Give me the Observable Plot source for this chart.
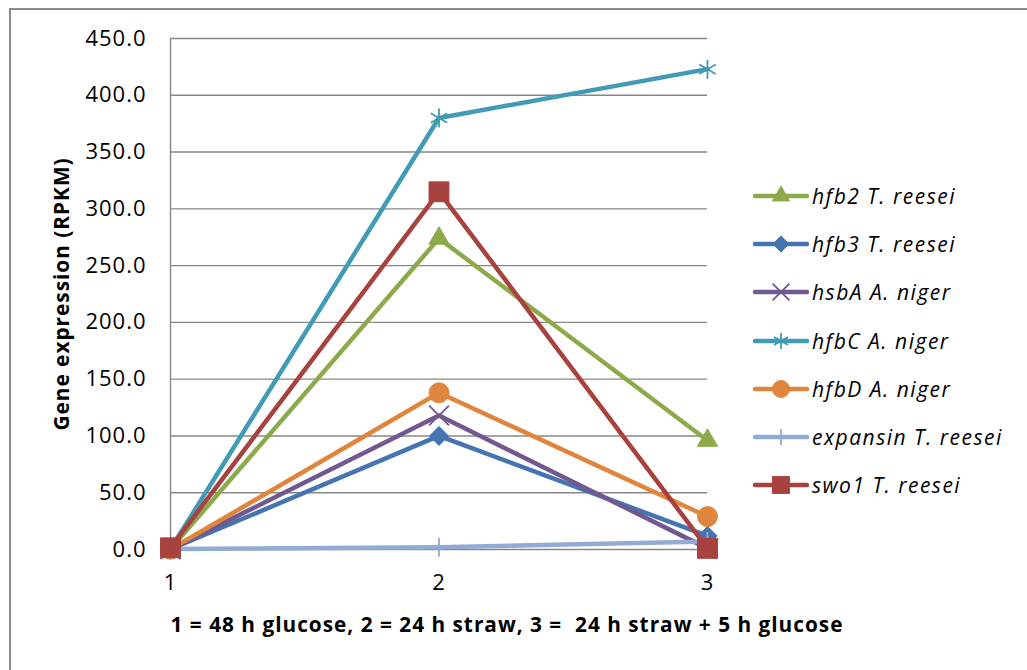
<!DOCTYPE html>
<html>
<head>
<meta charset="utf-8">
<script src="https://cdn.jsdelivr.net/npm/d3@7"></script>
<script src="https://cdn.jsdelivr.net/npm/@observablehq/plot@0.6"></script>
<style>
  html, body { margin: 0; padding: 0; background: #fff; }
  #wrap { position: relative; width: 1027px; height: 670px; overflow: hidden; }
  #border { position: absolute; left: 9px; top: 8px; width: 1100px; height: 800px;
            border-left: 2px solid #8c8c8c; border-top: 2px solid #8c8c8c; box-sizing: border-box; }
  #legend { position: absolute; left: 753px; top: 172px; font-family: "Open Sans", sans-serif;
            font-style: italic; font-size: 21px; letter-spacing: 1.5px; color: #000; }
  .item { display: flex; align-items: center; height: 48.2px; }
  .item span { margin-left: 3px; }
</style>
</head>
<body>
<div id="wrap"><div id="border"></div><div id="chart"></div><div id="legend"></div></div>
<script>
// ---- data ----
const stages = [1, 2, 3];
const stageLabels = ["1", "2", "3"];
const yTicks = [0, 50, 100, 150, 200, 250, 300, 350, 400, 450];
const seriesNames = ["hfb2 T. reesei", "hfb3 T. reesei", "hsbA A. niger", "hfbC A. niger",
                     "hfbD A. niger", "expansin T. reesei", "swo1 T. reesei"];
const hfb2 = [0.5, 274, 96];
const hfb3 = [0.3, 100, 12];
const hsbA = [0.2, 118, 1];
const hfbC = [0.4, 380, 423];
const hfbD = [0.2, 138, 29];
const expansin = [0.5, 2, 7];
const swo1 = [1.5, 315, 1];
const seriesValues = [hfb2, hfb3, hsbA, hfbC, hfbD, expansin, swo1];
const colors = ["#8DAA4B", "#4574B0", "#71598F", "#429BB4", "#E0853D", "#92ABD5", "#A8423F"];

const diamondSym = { draw(ctx, size) { const h = Math.sqrt(size / 2);
  ctx.moveTo(0, -h); ctx.lineTo(h, 0); ctx.lineTo(0, h); ctx.lineTo(-h, 0); ctx.closePath(); } };
const symbols = ["triangle", diamondSym, "times", "asterisk", "circle", "plus", "square"];
const radii = [7.5, 7.6, 9.1, 9, 10, 6.2, 11.2];
const filled = [true, true, false, false, true, false, true];

const rows = [];
seriesNames.forEach((s, i) => stages.forEach((st, j) =>
  rows.push({ series: s, stage: st, value: seriesValues[i][j] })));

const marks = [
  Plot.ruleY(yTicks, { stroke: "#878787", strokeWidth: 1.4 }),
  Plot.ruleX([1], { y1: 0, y2: 450, stroke: "#878787", strokeWidth: 1.4 }),
  Plot.axisY(yTicks, { tickSize: 0, tickPadding: 24, tickFormat: d => d.toFixed(1), label: null, fontSize: 22 }),
  Plot.axisX(stages, { tickSize: 0, tickPadding: 25, tickFormat: (d, i) => stageLabels[i], label: null, fontSize: 22 }),
];
seriesNames.forEach((s, i) => {
  const data = rows.filter(r => r.series === s);
  marks.push(Plot.line(data, { x: "stage", y: "value", stroke: colors[i], strokeWidth: 4.5 }));
  marks.push(Plot.dot(data, { x: "stage", y: "value", symbol: () => symbols[i], r: radii[i],
    fill: filled[i] ? colors[i] : "none", stroke: colors[i], strokeWidth: filled[i] ? 1 : 1.8 }));
});
marks.push(Plot.text(["Gene expression (RPKM)"], { frameAnchor: "left", textAnchor: "middle", rotate: -90, dx: -108,
  fontWeight: "bold", fontSize: 20.8 }));
marks.push(Plot.text(["1 = 48 h glucose, 2 = 24 h straw, 3 =  24 h straw + 5 h glucose"],
  { frameAnchor: "bottom", textAnchor: "middle", dx: 68, dy: 76, fontWeight: "bold", fontSize: 20.8, lineAnchor: "middle" }));

const chart = Plot.plot({
  width: 1027, height: 670,
  marginLeft: 170, marginRight: 320, marginTop: 38, marginBottom: 121,
  x: { type: "linear", domain: [1, 3] },
  y: { type: "linear", domain: [0, 450] },
  symbol: { type: "identity" },
  style: { fontFamily: "'Open Sans', sans-serif", fontSize: "20px", letterSpacing: "1px", color: "#000",
           background: "transparent", overflow: "visible" },
  marks
});
chart.style.position = "absolute";
chart.style.left = "0px";
chart.style.top = "0px";
document.getElementById("chart").appendChild(chart);

// legend
const legend = d3.select("#legend");
seriesNames.forEach((s, i) => {
  const item = legend.append("div").attr("class", "item");
  const svg = item.append("svg").attr("width", 56).attr("height", 24);
  svg.append("line").attr("x1", 2).attr("x2", 54).attr("y1", 12).attr("y2", 12)
    .attr("stroke", colors[i]).attr("stroke-width", 4.5).attr("stroke-linecap", "round");
  const symMap = { triangle: d3.symbolTriangle, times: d3.symbolTimes, asterisk: d3.symbolAsterisk,
                   circle: d3.symbolCircle, plus: d3.symbolPlus, square: d3.symbolSquare };
  const t = typeof symbols[i] === "string" ? symMap[symbols[i]] : symbols[i];
  const rr = radii[i] * 0.85;
  svg.append("path").attr("transform", "translate(28,12)")
    .attr("d", d3.symbol(t, Math.PI * rr * rr)())
    .attr("fill", filled[i] ? colors[i] : "none").attr("stroke", colors[i])
    .attr("stroke-width", filled[i] ? 1 : 1.8);
  item.append("span").text(s);
});
</script>
</body>
</html>
